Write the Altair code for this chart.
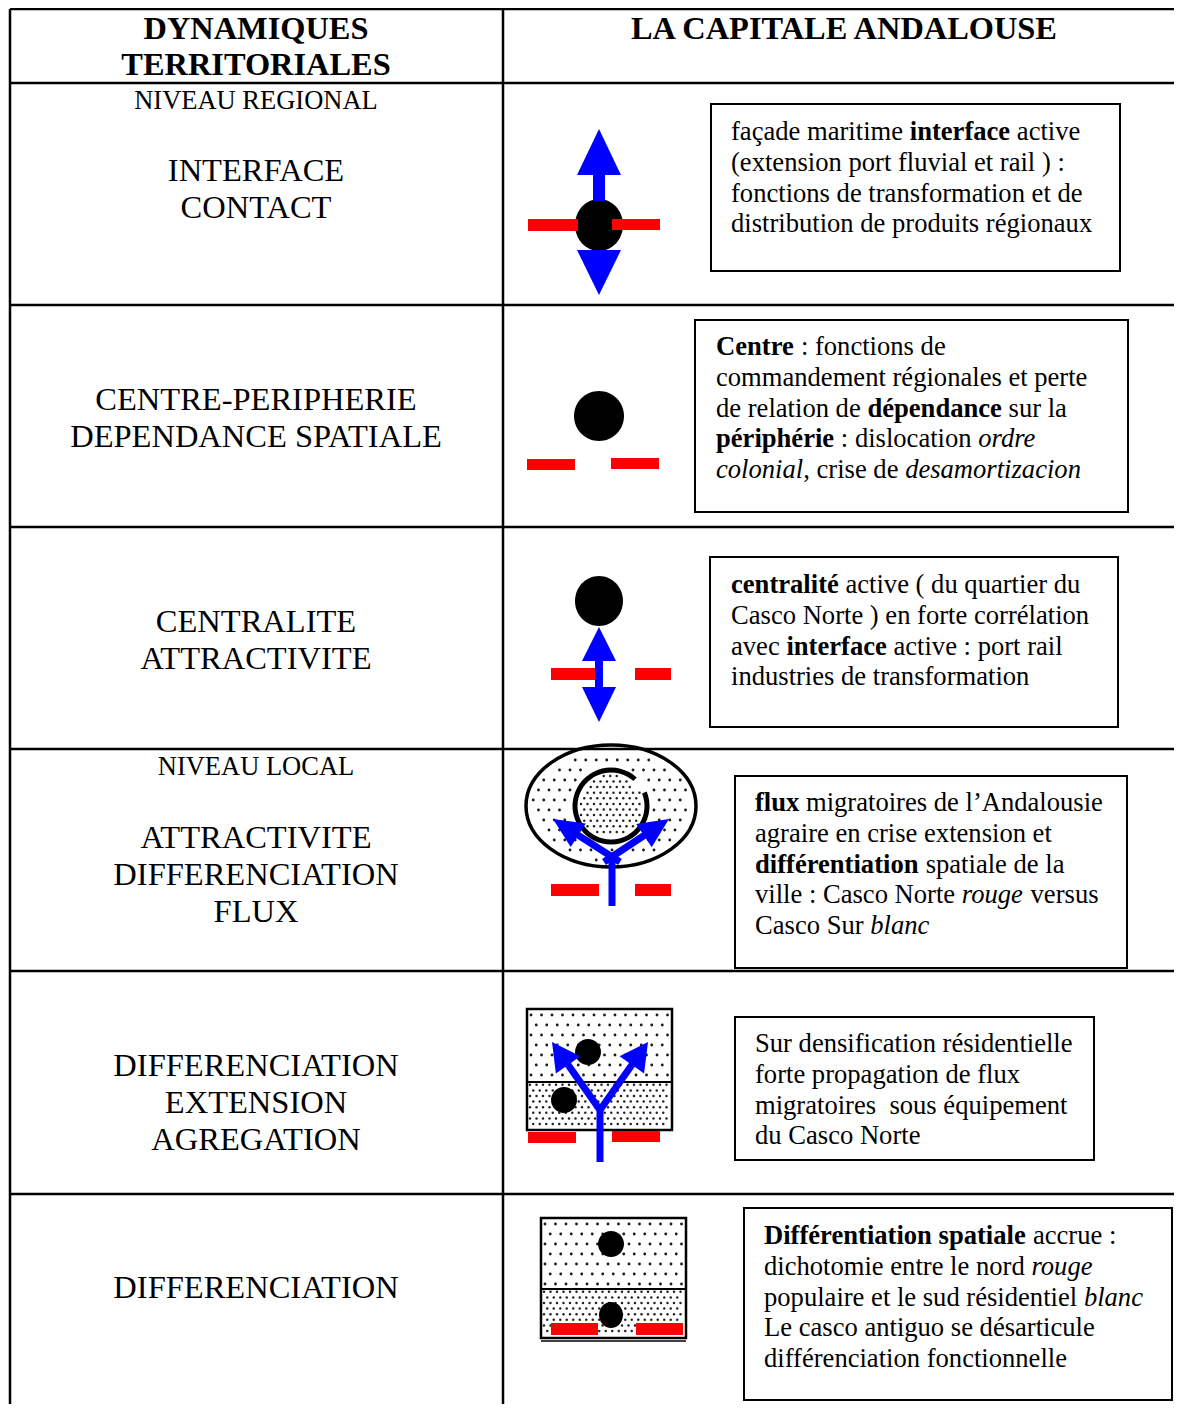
import math
import unicodedata
import altair as alt
import pandas as pd

# ---------------- content ----------------
HEADER_LEFT = ["DYNAMIQUES", "TERRITORIALES"]
HEADER_RIGHT = ["LA CAPITALE ANDALOUSE"]
LEVELS = ["NIVEAU REGIONAL", "NIVEAU LOCAL"]
ROW_LABELS = [
    ["INTERFACE", "CONTACT"],
    ["CENTRE-PERIPHERIE", "DEPENDANCE SPATIALE"],
    ["CENTRALITE", "ATTRACTIVITE"],
    ["ATTRACTIVITE", "DIFFERENCIATION", "FLUX"],
    ["DIFFERENCIATION", "EXTENSION", "AGREGATION"],
    ["DIFFERENCIATION"],
]
# n = regular, b = bold, i = italic
BOX_TEXTS = [
    [[("façade maritime ", "n"), ("interface", "b"), (" active", "n")],
     [("(extension port fluvial et rail ) :", "n")],
     [("fonctions de transformation et de", "n")],
     [("distribution de produits régionaux", "n")]],
    [[("Centre", "b"), (" : fonctions de", "n")],
     [("commandement régionales et perte", "n")],
     [("de relation de ", "n"), ("dépendance", "b"), (" sur la", "n")],
     [("périphérie", "b"), (" : dislocation ", "n"), ("ordre", "i")],
     [("colonial", "i"), (", crise de ", "n"), ("desamortizacion", "i")]],
    [[("centralité", "b"), (" active ( du quartier du", "n")],
     [("Casco Norte ) en forte corrélation", "n")],
     [("avec ", "n"), ("interface", "b"), (" active : port rail", "n")],
     [("industries de transformation", "n")]],
    [[("flux", "b"), (" migratoires de l\u2019Andalousie", "n")],
     [("agraire en crise extension et", "n")],
     [("différentiation", "b"), (" spatiale de la", "n")],
     [("ville : Casco Norte ", "n"), ("rouge", "i"), (" versus", "n")],
     [("Casco Sur ", "n"), ("blanc", "i")]],
    [[("Sur densification résidentielle", "n")],
     [("forte propagation de flux", "n")],
     [("migratoires\u00a0 sous équipement", "n")],
     [("du Casco Norte", "n")]],
    [[("Différentiation spatiale", "b"), (" accrue :", "n")],
     [("dichotomie entre le nord ", "n"), ("rouge", "i")],
     [("populaire et le sud résidentiel ", "n"), ("blanc", "i")],
     [("Le casco antiguo se désarticule", "n")],
     [("différenciation fonctionnelle", "n")]],
]

# ---------------- layout (image pixel coordinates) ----------------
X_MIN, X_MAX, Y_MIN, Y_MAX = 8, 1174, 8, 1404
COL_X = [10, 503]
ROW_EDGES = [9, 83, 305, 527, 749, 971, 1194]
LABEL_X = 256
HEADER_Y = [29, 65]
HEADER_RIGHT_X = 844
LEVEL_Y = [101, 767]
ROW_LABEL_Y0 = [171, 400, 622, 838, 1066, 1288]
LABEL_DY = 36.8
BOXES = [(711, 1120, 104, 271), (695, 1128, 320, 512), (710, 1118, 557, 727),
         (735, 1127, 776, 968), (735, 1094, 1017, 1160), (744, 1172, 1208, 1400)]
BOX_TEXT_ORIGIN = [(731, 132), (716, 347), (731, 585), (755, 803), (755, 1044), (764, 1236)]
BOX_DY = 30.8
FS_BOX, FS_LABEL, FS_LEVEL, FS_HEAD = 26.6, 32.5, 26.5, 32.4

BLACK_DOTS = [(599, 225, 24, 26), (599, 416, 25, 25), (599, 601, 24, 25),
              (588, 1052, 13, 13), (564, 1100, 13, 13),
              (611, 1244, 13, 13), (611, 1315, 12, 13)]
RED_BARS = [(528, 578, 219, 231), (612, 660, 219, 230),
            (527, 575, 459, 470), (611, 659, 458, 469),
            (551, 599, 668, 680), (635, 671, 668, 680),
            (551, 599, 884, 896), (635, 671, 884, 896),
            (528, 576, 1132, 1143), (612, 660, 1131, 1142),
            (551, 598, 1323, 1335), (636, 683, 1323, 1335)]
ARROWS = [((599, 201), (599, 129), 12, 46, 44),
          ((599, 250), (599, 295), 12, 45, 44),
          ((599, 674), (599, 627), 8, 34, 34),
          ((599, 674), (599, 722), 8, 35, 34),
          ((620, 862), (553, 819), 7, 30, 28),
          ((604, 862), (669, 819), 7, 30, 28),
          ((600, 1110), (552, 1042), 7, 28, 30),
          ((600, 1110), (648, 1042), 7, 28, 30)]
STEMS = [((612, 906), (612, 857), 7), ((600, 1162), (600, 1110), 7)]
OUTER_ELLIPSE = (611, 806, 85, 61)
INNER_RING = (611, 806, 38.5, 33.5)
RING_GAP = (42, 68)
FRAMES = [(527, 672, 1009, 1130), (541, 686, 1218, 1338)]
FRAME_SPLIT = [1082, 1289]

# ---------------- helpers ----------------
W_N = dict(zip("abcdefghijklmnopqrstuvwxyz", [444,500,444,500,444,333,500,500,278,278,500,278,778,500,500,500,500,333,389,278,500,500,722,500,500,444]))
W_N.update(dict(zip("ABCDEFGHIJKLMNOPQRSTUVWXYZ", [722,667,667,722,611,556,722,722,333,389,722,611,889,722,722,556,722,667,556,611,722,722,944,722,722,611])))
W_N.update({" ": 250, "\u00a0": 250, "(": 333, ")": 333, ":": 278, ",": 250, ".": 250, "-": 333, "\u2019": 333})
W_B = dict(zip("abcdefghijklmnopqrstuvwxyz", [500,556,444,556,444,333,500,556,278,333,556,278,833,556,500,556,556,444,389,333,556,500,722,500,500,444]))
W_B.update(dict(zip("ABCDEFGHIJKLMNOPQRSTUVWXYZ", [722,667,722,722,667,611,778,778,389,500,778,667,944,722,778,611,778,722,556,667,722,722,1000,722,722,667])))
W_B.update({" ": 250, ":": 333, ",": 250})
W_I = dict(zip("abcdefghijklmnopqrstuvwxyz", [500,500,444,500,444,278,500,500,278,278,444,278,722,500,500,500,500,389,389,278,500,444,667,444,444,389]))
W_I.update({" ": 250, ",": 250})
TABLES = {"n": W_N, "b": W_B, "i": W_I}


def text_width(s, style, fs):
    t = TABLES[style]
    tot = 0
    for ch in s:
        base = unicodedata.normalize("NFD", ch)[0]
        tot += t.get(ch, t.get(base, W_N.get(base, 500)))
    return tot * fs / 1000.0


def ellipse_path(rx, ry):
    m = max(rx, ry)
    a, b, k = rx / m, ry / m, 0.5523
    return (f"M {a} 0 C {a} {k*b} {k*a} {b} 0 {b} C {-k*a} {b} {-a} {k*b} {-a} 0 "
            f"C {-a} {-k*b} {-k*a} {-b} 0 {-b} C {k*a} {-b} {a} {-k*b} {a} 0 Z"), (2 * m) ** 2


def lattice(x0, x1, y0, y1, sx, sy):
    """regular staggered stipple texture"""
    pts, row, y = [], 0, y0 + sy / 2
    while y < y1:
        x = x0 + (sx / 2 if row % 2 else 0) + 2
        while x < x1:
            pts.append((x, y))
            x += sx
        y += sy
        row += 1
    return pts


XS = alt.Scale(domain=[X_MIN, X_MAX], nice=False, zero=False)
YS = alt.Scale(domain=[Y_MAX, Y_MIN], nice=False, zero=False)


def X(f="x"):
    return alt.X(f"{f}:Q", scale=XS, axis=None)


def Y(f="y"):
    return alt.Y(f"{f}:Q", scale=YS, axis=None)


layers = []

# table grid
grid = [dict(x=c, y=ROW_EDGES[0], x2=c, y2=Y_MAX) for c in COL_X]
grid += [dict(x=COL_X[0], y=r, x2=X_MAX, y2=r) for r in ROW_EDGES]
layers.append(alt.Chart(pd.DataFrame(grid)).mark_rule(color="black", strokeWidth=2.5).encode(
    x=X(), y=Y(), x2="x2:Q", y2="y2:Q"))

# text boxes
layers.append(alt.Chart(pd.DataFrame([dict(x=a, x2=b, y=c, y2=d) for a, b, c, d in BOXES])).mark_rect(
    fill="white", stroke="black", strokeWidth=2).encode(x=X(), x2="x2:Q", y=Y(), y2="y2:Q"))

# symbol frames
layers.append(alt.Chart(pd.DataFrame([dict(x=a, x2=b, y=c, y2=d) for a, b, c, d in FRAMES])).mark_rect(
    fill="white", stroke="black", strokeWidth=2.5).encode(x=X(), x2="x2:Q", y=Y(), y2="y2:Q"))

# stipple textures
sparse, dense = [], []
cx, cy, rx, ry = OUTER_ELLIPSE
ix, iy, ir, ir2 = INNER_RING
for (px, py) in lattice(cx - rx, cx + rx, cy - ry, cy + ry, 10.5, 10):
    if ((px - cx) / (rx - 6)) ** 2 + ((py - cy) / (ry - 6)) ** 2 < 1 and math.hypot(px - ix, py - iy) > ir + 3:
        sparse.append(dict(x=px, y=py))
for (px, py) in lattice(ix - ir, ix + ir, iy - ir, iy + ir, 6.5, 5.6):
    if math.hypot(px - ix, py - iy) < ir2 - 2:
        dense.append(dict(x=px, y=py))
for (x0, x1, y0, y1), ys in zip(FRAMES, FRAME_SPLIT):
    sparse += [dict(x=px, y=py) for px, py in lattice(x0 + 2, x1 - 3, y0 + 1, ys - 3, 10.5, 10)]
    dense += [dict(x=px, y=py) for px, py in lattice(x0 + 1, x1 - 3, ys, y1 - 2, 6.5, 5.6)]
layers.append(alt.Chart(pd.DataFrame(sparse)).mark_circle(size=8, color="#1a1a1a", opacity=1).encode(x=X(), y=Y()))
layers.append(alt.Chart(pd.DataFrame(dense)).mark_circle(size=6, color="#222", opacity=1).encode(x=X(), y=Y()))

# frame dividers and shadow
div = [dict(x=f[0], y=s, x2=f[1], y2=s) for f, s in zip(FRAMES, FRAME_SPLIT)]
layers.append(alt.Chart(pd.DataFrame(div)).mark_rule(color="black", strokeWidth=2).encode(
    x=X(), y=Y(), x2="x2:Q", y2="y2:Q"))
layers.append(alt.Chart(pd.DataFrame([dict(x=FRAMES[1][0], y=FRAMES[1][3] + 3, x2=FRAMES[1][1], y2=FRAMES[1][3] + 3)]))
              .mark_rule(color="black", strokeWidth=1.5).encode(x=X(), y=Y(), x2="x2:Q", y2="y2:Q"))

# outer ellipse outline
p, s = ellipse_path(rx, ry)
layers.append(alt.Chart(pd.DataFrame([dict(x=cx, y=cy, shape=p, size=s)])).mark_point(
    filled=False, color="black", strokeWidth=3.5, opacity=1).encode(
    x=X(), y=Y(), shape=alt.Shape("shape:N", scale=None, legend=None), size=alt.Size("size:Q", scale=None, legend=None)))

# inner ring with an opening
layers.append(alt.Chart(pd.DataFrame([dict(x=ix, y=iy)])).mark_arc(
    radius=ir, radius2=ir2, theta=math.radians(RING_GAP[1]), theta2=math.radians(RING_GAP[0] + 360), color="black").encode(
    x=X(), y=Y()))

# black dots
bd = []
for (x, y, a, b) in BLACK_DOTS:
    p, s = ellipse_path(a, b)
    bd.append(dict(x=x, y=y, shape=p, size=s))
layers.append(alt.Chart(pd.DataFrame(bd)).mark_point(filled=True, color="black", opacity=1, strokeWidth=0).encode(
    x=X(), y=Y(), shape=alt.Shape("shape:N", scale=None, legend=None), size=alt.Size("size:Q", scale=None, legend=None)))

# red bars
layers.append(alt.Chart(pd.DataFrame([dict(x=a, x2=b, y=c, y2=d) for a, b, c, d in RED_BARS])).mark_rect(
    color="#ff0000").encode(x=X(), x2="x2:Q", y=Y(), y2="y2:Q"))

# blue shafts and heads
shafts, heads = [], []
for (t0, t1, w) in STEMS:
    shafts.append(dict(x=t0[0], y=t0[1], x2=t1[0], y2=t1[1], w=w))
for (tail, tip, w, L, W) in ARROWS:
    dx, dy = tip[0] - tail[0], tip[1] - tail[1]
    d = math.hypot(dx, dy)
    ux, uy = dx / d, dy / d
    hx, hy = tip[0] - ux * L / 2, tip[1] - uy * L / 2
    shafts.append(dict(x=tail[0], y=tail[1], x2=hx, y2=hy, w=w))
    S = max(L, W)
    h, hw = L / S, W / S
    heads.append(dict(x=hx, y=hy, shape=f"M 0 {-h} L {hw} {h} L {-hw} {h} Z", size=S * S,
                      angle=math.degrees(math.atan2(ux, -uy)) % 360))
layers.append(alt.Chart(pd.DataFrame(shafts)).mark_rule(color="#0000ff").encode(
    x=X(), y=Y(), x2="x2:Q", y2="y2:Q", strokeWidth=alt.StrokeWidth("w:Q", scale=None, legend=None)))
layers.append(alt.Chart(pd.DataFrame(heads)).mark_point(filled=True, color="#0000ff", opacity=1, strokeWidth=0).encode(
    x=X(), y=Y(), shape=alt.Shape("shape:N", scale=None, legend=None), size=alt.Size("size:Q", scale=None, legend=None),
    angle=alt.Angle("angle:Q", scale=None)))

# left column texts
left = [dict(x=LABEL_X, y=y, text=t, size=FS_LEVEL) for t, y in zip(LEVELS, LEVEL_Y)]
for labels, y0 in zip(ROW_LABELS, ROW_LABEL_Y0):
    left += [dict(x=LABEL_X, y=y0 + k * LABEL_DY, text=t, size=FS_LABEL) for k, t in enumerate(labels)]
layers.append(alt.Chart(pd.DataFrame(left)).mark_text(font="Liberation Serif", align="center", baseline="middle", color="black").encode(
    x=X(), y=Y(), text="text:N", size=alt.Size("size:Q", scale=None, legend=None)))

heads_txt = [dict(x=LABEL_X, y=y, text=t) for t, y in zip(HEADER_LEFT, HEADER_Y)]
heads_txt += [dict(x=HEADER_RIGHT_X, y=HEADER_Y[0], text=t) for t in HEADER_RIGHT]
layers.append(alt.Chart(pd.DataFrame(heads_txt)).mark_text(font="Liberation Serif", fontWeight="bold", fontSize=FS_HEAD,
    align="center", baseline="middle", color="black").encode(x=X(), y=Y(), text="text:N"))

# box texts with mixed styles
segs = []
for lines, (x0, y0) in zip(BOX_TEXTS, BOX_TEXT_ORIGIN):
    for k, line in enumerate(lines):
        x = x0
        for txt, st in line:
            lead = len(txt) - len(txt.lstrip(" "))
            segs.append(dict(x=x + text_width(" " * lead, "n", FS_BOX), y=y0 + k * BOX_DY, text=txt.strip(" "), style=st))
            x += text_width(txt, st, FS_BOX)
segdf = pd.DataFrame(segs)
for st, kw in [("n", {}), ("b", {"fontWeight": "bold"}), ("i", {"fontStyle": "italic"})]:
    layers.append(alt.Chart(segdf[segdf["style"] == st]).mark_text(
        font="Liberation Serif", fontSize=FS_BOX, align="left", baseline="middle", color="black", **kw).encode(
        x=X(), y=Y(), text="text:N"))

chart = alt.layer(*layers).properties(
    width=X_MAX - X_MIN, height=Y_MAX - Y_MIN, padding=0,
    autosize=alt.AutoSizeParams(type="none")).configure_view(stroke=None)

chart.save("out.html", embed_options={"renderer": "svg", "actions": False})
